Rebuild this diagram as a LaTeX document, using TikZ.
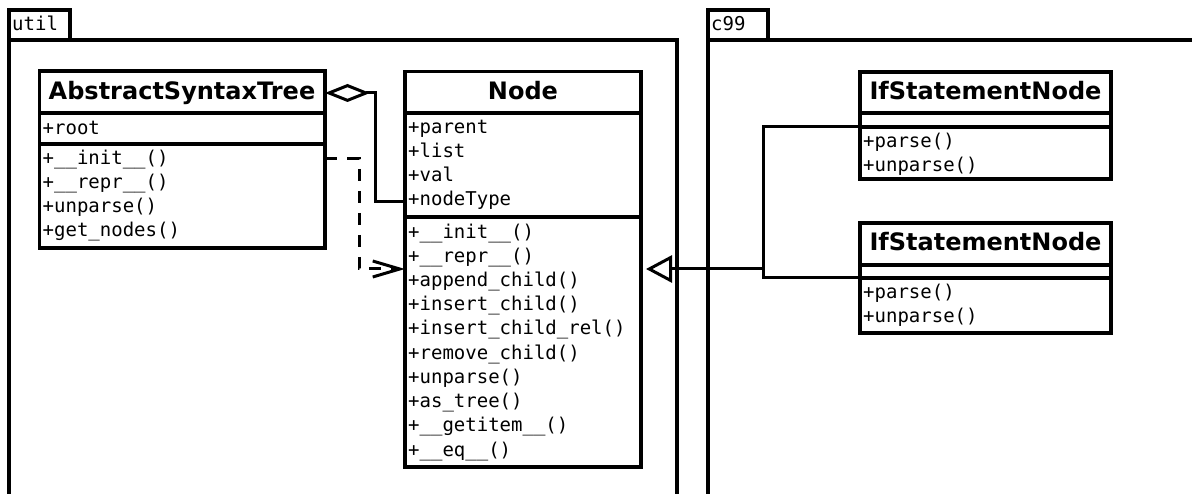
\documentclass[tikz,border=0pt]{standalone}
\usepackage{fontspec}
\newfontfamily\monof{DejaVu Sans Mono}
\newfontfamily\headf{DejaVu Sans}
\usetikzlibrary{arrows.meta}
\begin{document}
\begin{tikzpicture}[x=1pt,y=-1pt,
  pkg/.style={line width=3.2pt},
  cls/.style={draw, line width=3.2pt, inner sep=0pt, outer sep=0pt, anchor=north west},
  sep/.style={line width=3.2pt},
  mem/.style={anchor=base west, inner sep=0pt, font=\monof\fontsize{19}{24}\selectfont},
  hdr/.style={anchor=base, inner sep=0pt, font=\headf\bfseries\fontsize{24}{28}\selectfont},
  conn/.style={line width=3pt, line join=miter},
]
\useasboundingbox (0,0) rectangle (1192,494);
% packages
\draw[pkg] (9,498) |- (70,10) |- (677,40) -- (677,498);
\draw[pkg] (9,40) -- (70,40);
\node[mem] (utillbl) at (12,31) {util};
\draw[pkg] (708,498) |- (768,10) |- (1196,40);
\draw[pkg] (708,40) -- (768,40);
\node[mem] (c99lbl) at (711,31) {c99};
% classes
\node[cls, minimum width=285.5pt, minimum height=177pt] (ast) at (39.5,71) {};
\draw[sep] (ast.west|-0,113) -- (ast.east|-0,113);
\draw[sep] (ast.west|-0,144) -- (ast.east|-0,144);
\node[hdr] (asth) at (182,100) {AbstractSyntaxTree};
\node[mem] (asta1) at (42.5,135) {+root};
\foreach \t [count=\i] in {+\_\_init\_\_(),+\_\_repr\_\_(),+unparse(),+get\_nodes()}
  \node[mem] (astm\i) at (42.5,141+24*\i) {\t};

\node[cls, minimum width=236pt, minimum height=395.5pt] (ncls) at (405,71.5) {};
\draw[sep] (ncls.west|-0,113) -- (ncls.east|-0,113);
\draw[sep] (ncls.west|-0,217) -- (ncls.east|-0,217);
\node[hdr] (nclsh) at (523,100) {Node};
\foreach \t [count=\i] in {+parent,+list,+val,+nodeType}
  \node[mem] (nclsa\i) at (408,110+24*\i) {\t};
\foreach \t [count=\i] in {+\_\_init\_\_(),+\_\_repr\_\_(),+append\_child(),+insert\_child(),+insert\_child\_rel(),+remove\_child(),+unparse(),+as\_tree(),+\_\_getitem\_\_(),+\_\_eq\_\_()}
  \node[mem] (nclsm\i) at (408,214+24.2*\i) {\t};

\node[cls, minimum width=251pt, minimum height=107pt] (ifsa) at (860,72) {};
\draw[sep] (ifsa.west|-0,113) -- (ifsa.east|-0,113);
\draw[sep] (ifsa.west|-0,127) -- (ifsa.east|-0,127);
\node[hdr] (ifsah) at (985.5,100) {IfStatementNode};
\node[mem] (ifsam1) at (863,148) {+parse()};
\node[mem] (ifsam2) at (863,172) {+unparse()};

\node[cls, minimum width=251pt, minimum height=110pt] (ifsb) at (860,223) {};
\draw[sep] (ifsb.west|-0,265) -- (ifsb.east|-0,265);
\draw[sep] (ifsb.west|-0,278) -- (ifsb.east|-0,278);
\node[hdr] (ifsbh) at (985.5,251) {IfStatementNode};
\node[mem] (ifsbm1) at (863,299) {+parse()};
\node[mem] (ifsbm2) at (863,323) {+unparse()};

% connectors
\draw[conn, {Diamond[open,length=45pt,width=18pt]}-] (ast.east|-0,93) -- (375,93) -- (375,202) -- (ncls.west|-0,202);
\draw[conn, dash pattern=on 12pt off 10pt, -{Straight Barb[length=27pt,width=16pt]}] (ast.east|-0,159) -- (359,159) -- (359,269) -- (ncls.west|-0,269);
\coordinate (junc) at (763,269);
\draw[conn] (ifsa.west|-0,127) -| (junc);
\draw[conn] (ifsb.west|-0,278) -| (junc);
\draw[conn, shorten >=5pt, -{Triangle[open,length=26pt,width=27pt]}] (junc) -- (ncls.east|-junc);
\end{tikzpicture}
\end{document}
